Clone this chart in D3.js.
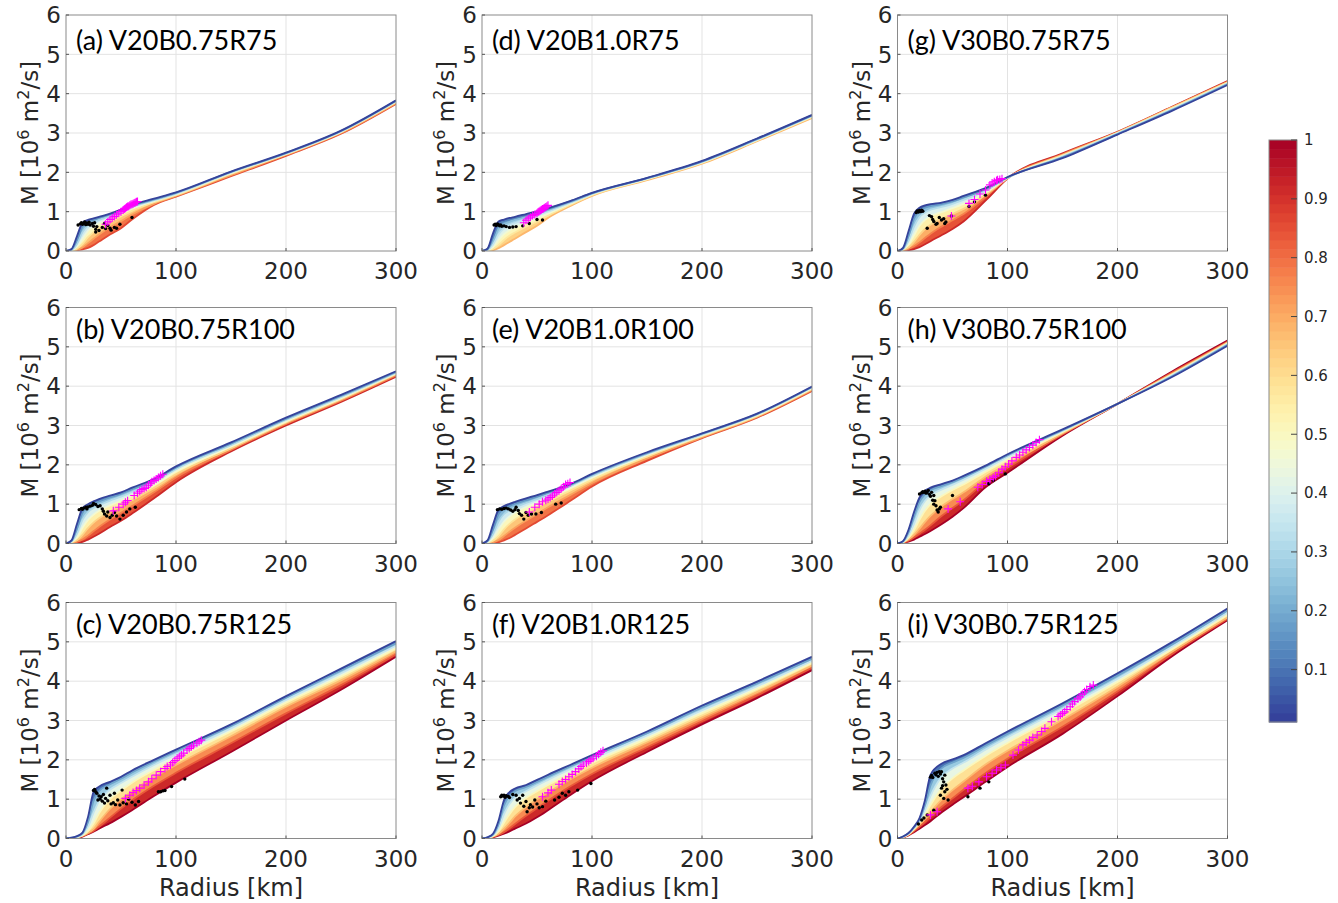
<!DOCTYPE html>
<html>
<head>
<meta charset="utf-8">
<script src="https://cdn.jsdelivr.net/npm/d3@7"></script>
<style>
  body { margin: 0; background: #fff; }
  text { font-family: "DejaVu Sans", sans-serif; fill: #262626; }
</style>
</head>
<body>
<div id="chart"></div>
<script>
// radii (km) at which every M curve is sampled
const radii = [0, 5, 10, 15, 20, 25, 30, 40, 50, 60, 80, 100, 150, 200, 250, 300];

const xTicks = [0, 100, 200, 300];
const yTicks = [0, 1, 2, 3, 4, 5, 6];
const cbTicks = [0.1, 0.2, 0.3, 0.4, 0.5, 0.6, 0.7, 0.8, 0.9, 1];

const panelLabels = ["(a) V20B0.75R75", "(b) V20B0.75R100", "(c) V20B0.75R125",
                     "(d) V20B1.0R75", "(e) V20B1.0R100", "(f) V20B1.0R125",
                     "(g) V30B0.75R75", "(h) V30B0.75R100", "(i) V30B0.75R125"];

// normalised time of each curve, and M [10^6 m2/s] of each curve at the radii above
const times_a = [0.02, 0.16, 0.3, 0.44, 0.58, 0.72, 0.86];
const M_a = [
  [0, 0.05, 0.38, 0.72, 0.79, 0.83, 0.87, 0.95, 1.05, 1.17, 1.33, 1.49, 2.02, 2.5, 3.06, 3.83],
  [0, 0.04, 0.28, 0.62, 0.74, 0.79, 0.84, 0.93, 1.03, 1.15, 1.31, 1.48, 2.01, 2.49, 3.05, 3.82],
  [0, 0.03, 0.18, 0.48, 0.65, 0.73, 0.79, 0.89, 1.0, 1.12, 1.29, 1.46, 2.0, 2.48, 3.04, 3.81],
  [0, 0.02, 0.11, 0.32, 0.52, 0.63, 0.71, 0.83, 0.95, 1.08, 1.27, 1.44, 1.98, 2.47, 3.03, 3.8],
  [0, 0.01, 0.06, 0.18, 0.35, 0.48, 0.59, 0.74, 0.88, 1.02, 1.24, 1.42, 1.96, 2.46, 3.02, 3.78],
  [0, 0.01, 0.03, 0.09, 0.2, 0.31, 0.42, 0.6, 0.76, 0.93, 1.2, 1.4, 1.93, 2.44, 3.0, 3.76],
  [0, 0, 0.02, 0.04, 0.08, 0.15, 0.24, 0.42, 0.58, 0.8, 1.17, 1.38, 1.9, 2.42, 2.98, 3.74]
];
const dots_a = [[11,0.66],[13,0.69],[14,0.72],[15,0.68],[16,0.7],[17,0.74],[18,0.67],[19,0.71],[20,0.68],[21,0.73],
  [22,0.66],[24,0.7],[25,0.63],[26,0.72],[27,0.55],[27,0.48],[28,0.62],[30,0.52],[33,0.6],[35,0.7],[36,0.57],
  [38,0.65],[40,0.58],[41,0.53],[44,0.6],[46,0.58],[49,0.68],[60,0.85]];
const plus_a = [[36,0.68],[38,0.74],[40,0.8],[42,0.84],[44,0.88],[46,0.92],[48,0.96],[50,1.0],[52,1.04],[53,1.07],
  [54,1.09],[55,1.11],[56,1.13],[57,1.14],[58,1.16],[59,1.18],[60,1.19],[61,1.2],[62,1.22],[63,1.23],[64,1.25],[65,1.26]];

const times_b = [0.02, 0.17, 0.32, 0.47, 0.62, 0.77, 0.92];
const M_b = [
  [0, 0.08, 0.5, 0.9, 1.0, 1.07, 1.13, 1.22, 1.3, 1.42, 1.64, 1.96, 2.57, 3.2, 3.78, 4.38],
  [0, 0.06, 0.38, 0.78, 0.93, 1.01, 1.07, 1.17, 1.26, 1.38, 1.61, 1.93, 2.54, 3.17, 3.75, 4.36],
  [0, 0.05, 0.25, 0.6, 0.8, 0.9, 0.97, 1.09, 1.19, 1.31, 1.56, 1.89, 2.5, 3.14, 3.72, 4.34],
  [0, 0.04, 0.15, 0.4, 0.6, 0.73, 0.83, 0.97, 1.09, 1.22, 1.49, 1.83, 2.46, 3.1, 3.69, 4.32],
  [0, 0.02, 0.08, 0.22, 0.39, 0.53, 0.64, 0.81, 0.95, 1.1, 1.41, 1.76, 2.42, 3.07, 3.66, 4.3],
  [0, 0.01, 0.04, 0.1, 0.2, 0.31, 0.42, 0.61, 0.78, 0.95, 1.3, 1.68, 2.38, 3.04, 3.63, 4.27],
  [0, 0, 0.01, 0.04, 0.1, 0.17, 0.25, 0.42, 0.58, 0.76, 1.15, 1.56, 2.34, 3.0, 3.6, 4.24]
];
const dots_b = [[12,0.86],[14,0.89],[15,0.87],[16,0.9],[18,0.92],[19,0.88],[20,0.93],[22,0.95],[24,0.97],[25,1.02],
  [27,0.99],[29,0.94],[31,0.96],[33,0.88],[34,0.82],[35,0.75],[37,0.7],[38,0.8],[40,0.66],[42,0.72],[44,0.79],
  [46,0.7],[49,0.62],[52,0.72],[55,0.8],[58,0.88],[63,0.92]];
const plus_b = [[43,0.83],[48,0.92],[52,1.0],[54,1.05],[56,1.09],[62,1.22],[65,1.28],[67,1.33],[69,1.37],[71,1.4],
  [73,1.43],[75,1.48],[77,1.53],[78,1.57],[80,1.6],[82,1.64],[84,1.68],[86,1.72],[88,1.76]];

const times_c = [0.02, 0.185, 0.35, 0.51, 0.67, 0.835, 1.0];
const M_c = [
  [0, 0.02, 0.06, 0.15, 0.55, 1.18, 1.32, 1.44, 1.57, 1.73, 2.0, 2.26, 2.9, 3.62, 4.32, 5.02],
  [0, 0.02, 0.05, 0.13, 0.42, 0.95, 1.2, 1.38, 1.52, 1.68, 1.96, 2.22, 2.86, 3.58, 4.27, 4.96],
  [0, 0.01, 0.04, 0.1, 0.3, 0.65, 0.95, 1.24, 1.41, 1.57, 1.87, 2.14, 2.8, 3.52, 4.2, 4.9],
  [0, 0.01, 0.03, 0.08, 0.19, 0.38, 0.64, 1.0, 1.22, 1.42, 1.74, 2.03, 2.72, 3.45, 4.12, 4.83],
  [0, 0.01, 0.03, 0.07, 0.14, 0.24, 0.42, 0.75, 1.0, 1.2, 1.56, 1.87, 2.6, 3.35, 4.02, 4.76],
  [0, 0.01, 0.02, 0.06, 0.12, 0.19, 0.3, 0.53, 0.76, 0.97, 1.34, 1.67, 2.42, 3.18, 3.9, 4.68],
  [0, 0.01, 0.02, 0.05, 0.11, 0.17, 0.25, 0.39, 0.55, 0.72, 1.08, 1.42, 2.2, 3.0, 3.78, 4.62]
];
const dots_c = [[25,1.22],[26,1.25],[27,1.19],[28,1.15],[29,0.98],[30,1.08],[31,1.0],[32,1.06],[33,0.95],[34,1.12],
  [35,0.9],[36,1.02],[37,1.28],[38,0.96],[40,1.1],[41,0.88],[43,0.91],[44,1.15],[45,0.86],[47,0.98],[49,0.85],
  [51,1.23],[52,0.91],[55,0.88],[57,1.0],[60,0.92],[63,0.85],[66,0.94],[84,1.19],[86,1.19],[88,1.21],[90,1.22],
  [96,1.32],[108,1.51]];
const plus_c = [[54,1.02],[58,1.1],[61,1.17],[64,1.22],[67,1.28],[71,1.36],[75,1.44],[78,1.52],[82,1.61],[86,1.7],
  [90,1.78],[92,1.83],[95,1.87],[97,1.93],[99,1.98],[101,2.04],[103,2.08],[105,2.12],[107,2.17],[110,2.25],
  [112,2.29],[114,2.33],[116,2.37],[119,2.42],[121,2.46],[123,2.5]];

const times_d = [0.02, 0.13, 0.24, 0.35, 0.46, 0.57, 0.68];
const M_d = [
  [0, 0.06, 0.45, 0.75, 0.8, 0.84, 0.87, 0.94, 1.01, 1.09, 1.27, 1.48, 1.86, 2.29, 2.86, 3.46],
  [0, 0.05, 0.35, 0.68, 0.76, 0.8, 0.84, 0.91, 0.99, 1.07, 1.26, 1.47, 1.85, 2.28, 2.85, 3.45],
  [0, 0.04, 0.25, 0.56, 0.68, 0.74, 0.79, 0.87, 0.95, 1.04, 1.24, 1.46, 1.85, 2.27, 2.84, 3.44],
  [0, 0.03, 0.16, 0.42, 0.57, 0.65, 0.71, 0.81, 0.9, 1.0, 1.22, 1.45, 1.84, 2.26, 2.83, 3.43],
  [0, 0.02, 0.1, 0.28, 0.43, 0.53, 0.6, 0.72, 0.83, 0.95, 1.2, 1.44, 1.83, 2.25, 2.82, 3.42],
  [0, 0.01, 0.05, 0.15, 0.28, 0.39, 0.47, 0.62, 0.75, 0.9, 1.17, 1.42, 1.82, 2.24, 2.81, 3.4],
  [0, 0.01, 0.02, 0.07, 0.15, 0.23, 0.31, 0.48, 0.64, 0.84, 1.14, 1.4, 1.8, 2.22, 2.79, 3.38]
];
const dots_d = [[11,0.66],[12,0.68],[13,0.65],[14,0.69],[15,0.67],[16,0.64],[17,0.66],[18,0.63],[20,0.64],[22,0.62],
  [25,0.6],[28,0.61],[31,0.62],[37,0.64],[43,0.7],[50,0.8],[55,0.79]];
const plus_d = [[38,0.72],[40,0.78],[42,0.82],[44,0.86],[46,0.9],[48,0.93],[50,0.96],[51,0.99],[52,1.01],[53,1.03],
  [54,1.05],[55,1.07],[56,1.08],[57,1.1],[58,1.12],[59,1.14],[60,1.16]];

const times_e = [0.02, 0.16, 0.3, 0.44, 0.58, 0.72, 0.86];
const M_e = [
  [0, 0.08, 0.48, 0.86, 0.95, 1.01, 1.06, 1.15, 1.23, 1.32, 1.51, 1.77, 2.32, 2.8, 3.3, 3.99],
  [0, 0.06, 0.36, 0.75, 0.88, 0.95, 1.01, 1.1, 1.19, 1.29, 1.49, 1.75, 2.3, 2.79, 3.29, 3.98],
  [0, 0.05, 0.24, 0.56, 0.75, 0.85, 0.92, 1.03, 1.13, 1.24, 1.46, 1.72, 2.28, 2.77, 3.28, 3.97],
  [0, 0.03, 0.14, 0.36, 0.56, 0.69, 0.79, 0.93, 1.05, 1.17, 1.41, 1.68, 2.25, 2.75, 3.26, 3.95],
  [0, 0.02, 0.07, 0.19, 0.36, 0.5, 0.61, 0.78, 0.93, 1.07, 1.34, 1.62, 2.21, 2.73, 3.24, 3.93],
  [0, 0.01, 0.03, 0.09, 0.19, 0.3, 0.4, 0.58, 0.75, 0.92, 1.23, 1.54, 2.16, 2.7, 3.22, 3.9],
  [0, 0, 0.01, 0.03, 0.08, 0.14, 0.22, 0.38, 0.55, 0.72, 1.08, 1.45, 2.1, 2.68, 3.2, 3.88]
];
const dots_e = [[14,0.86],[16,0.88],[18,0.87],[20,0.89],[22,0.9],[24,0.88],[26,0.85],[28,0.82],[30,0.86],[31,0.92],
  [33,0.84],[34,0.76],[36,0.72],[38,0.62],[40,0.79],[42,0.72],[45,0.75],[49,0.75],[54,0.79],[67,1.0],[72,1.03]];
const plus_e = [[43,0.8],[48,0.92],[52,1.0],[55,1.06],[58,1.1],[60,1.13],[62,1.17],[64,1.21],[66,1.26],[68,1.3],
  [70,1.34],[72,1.39],[74,1.44],[76,1.5],[78,1.52],[80,1.55]];

const times_f = [0.02, 0.185, 0.35, 0.51, 0.67, 0.835, 1.0];
const M_f = [
  [0, 0.03, 0.12, 0.45, 0.98, 1.18, 1.27, 1.36, 1.49, 1.62, 1.87, 2.12, 2.72, 3.38, 3.99, 4.62],
  [0, 0.03, 0.1, 0.36, 0.84, 1.08, 1.2, 1.31, 1.44, 1.57, 1.83, 2.08, 2.68, 3.33, 3.94, 4.57],
  [0, 0.02, 0.08, 0.26, 0.62, 0.88, 1.04, 1.2, 1.35, 1.49, 1.76, 2.02, 2.62, 3.26, 3.87, 4.52],
  [0, 0.02, 0.06, 0.18, 0.4, 0.62, 0.8, 1.03, 1.2, 1.36, 1.65, 1.92, 2.54, 3.18, 3.8, 4.46],
  [0, 0.01, 0.05, 0.12, 0.25, 0.4, 0.56, 0.8, 1.0, 1.17, 1.5, 1.8, 2.44, 3.08, 3.72, 4.4],
  [0, 0.01, 0.04, 0.09, 0.16, 0.26, 0.37, 0.58, 0.77, 0.96, 1.32, 1.64, 2.32, 2.98, 3.64, 4.34],
  [0, 0.01, 0.03, 0.07, 0.12, 0.18, 0.25, 0.38, 0.54, 0.72, 1.1, 1.46, 2.2, 2.9, 3.57, 4.28]
];
const dots_f = [[17,1.06],[18,1.1],[19,1.08],[20,1.1],[21,1.05],[22,1.09],[24,1.07],[25,1.04],[28,1.12],[31,1.1],
  [32,0.98],[34,1.02],[35,0.9],[37,1.1],[38,0.82],[40,0.94],[41,0.68],[43,0.78],[44,0.86],[46,0.8],[48,0.98],
  [50,0.88],[52,0.78],[55,0.81],[58,0.95],[66,0.98],[70,1.05],[73,1.15],[76,1.1],[79,1.19],[87,1.23],[99,1.4]];
const plus_f = [[55,1.06],[60,1.16],[63,1.23],[70,1.38],[73,1.45],[76,1.5],[79,1.57],[82,1.63],[85,1.7],[88,1.77],
  [90,1.83],[92,1.87],[95,1.92],[97,1.96],[99,2.0],[101,2.04],[104,2.09],[106,2.14],[108,2.19],[110,2.23]];

const times_g = [0.02, 0.17, 0.32, 0.47, 0.62, 0.77, 0.92];
const M_g = [
  [0, 0.08, 0.5, 0.95, 1.1, 1.16, 1.19, 1.23, 1.3, 1.4, 1.6, 1.88, 2.36, 2.96, 3.57, 4.22],
  [0, 0.06, 0.38, 0.82, 1.02, 1.1, 1.14, 1.19, 1.26, 1.36, 1.57, 1.87, 2.38, 2.97, 3.59, 4.24],
  [0, 0.05, 0.26, 0.62, 0.86, 0.98, 1.05, 1.12, 1.2, 1.3, 1.53, 1.86, 2.4, 2.99, 3.61, 4.26],
  [0, 0.04, 0.16, 0.4, 0.64, 0.79, 0.88, 0.99, 1.09, 1.2, 1.48, 1.86, 2.42, 3.0, 3.63, 4.27],
  [0, 0.03, 0.09, 0.23, 0.41, 0.56, 0.67, 0.82, 0.94, 1.07, 1.43, 1.85, 2.44, 3.01, 3.65, 4.29],
  [0, 0.01, 0.05, 0.12, 0.22, 0.33, 0.44, 0.62, 0.78, 0.94, 1.38, 1.85, 2.46, 3.02, 3.66, 4.3],
  [0, 0, 0.02, 0.05, 0.1, 0.17, 0.25, 0.4, 0.56, 0.75, 1.28, 1.84, 2.48, 3.03, 3.67, 4.32]
];
const dots_g = [[17,0.98],[18,1.02],[19,0.99],[20,1.03],[21,1.0],[22,1.04],[23,1.01],[27,0.58],[29,0.9],[31,0.87],
  [32,0.8],[33,0.75],[35,0.68],[36,0.7],[38,0.85],[40,0.79],[42,0.82],[43,0.7],[44,0.74],[49,0.89],[65,1.13],
  [70,1.25],[80,1.42]];
const plus_g = [[49,0.89],[65,1.21],[70,1.31],[75,1.45],[80,1.55],[84,1.68],[86,1.73],[88,1.76],[90,1.79],[91,1.81],
  [93,1.82],[95,1.84]];

const times_h = [0.02, 0.185, 0.35, 0.51, 0.67, 0.835, 1.0];
const M_h = [
  [0, 0.06, 0.35, 0.8, 1.17, 1.34, 1.42, 1.51, 1.6, 1.72, 1.98, 2.27, 2.9, 3.55, 4.24, 5.03],
  [0, 0.05, 0.28, 0.68, 1.06, 1.25, 1.35, 1.46, 1.56, 1.68, 1.95, 2.24, 2.88, 3.55, 4.26, 5.05],
  [0, 0.04, 0.2, 0.5, 0.85, 1.08, 1.22, 1.37, 1.49, 1.62, 1.9, 2.2, 2.86, 3.55, 4.28, 5.07],
  [0, 0.03, 0.14, 0.34, 0.6, 0.83, 1.0, 1.2, 1.36, 1.5, 1.82, 2.12, 2.83, 3.55, 4.3, 5.09],
  [0, 0.03, 0.1, 0.22, 0.38, 0.55, 0.7, 0.94, 1.13, 1.3, 1.7, 2.02, 2.8, 3.55, 4.32, 5.11],
  [0, 0.02, 0.07, 0.15, 0.25, 0.35, 0.46, 0.7, 0.9, 1.1, 1.57, 1.92, 2.77, 3.55, 4.35, 5.13],
  [0, 0.02, 0.05, 0.1, 0.17, 0.24, 0.32, 0.49, 0.68, 0.9, 1.43, 1.8, 2.74, 3.55, 4.38, 5.16]
];
const dots_h = [[20,1.26],[22,1.29],[23,1.32],[24,1.3],[25,1.33],[26,1.28],[27,1.31],[28,1.35],[29,1.25],[30,1.2],
  [31,1.3],[32,1.1],[33,1.22],[33,1.0],[34,1.09],[35,0.96],[36,0.85],[37,0.8],[38,0.88],[39,0.92],[50,1.22],
  [83,1.52],[87,1.6],[98,1.77]];
const plus_h = [[46,0.88],[57,1.06],[73,1.43],[77,1.5],[81,1.58],[84,1.63],[87,1.68],[89,1.72],[92,1.8],[95,1.89],
  [98,1.95],[101,2.02],[104,2.1],[108,2.19],[111,2.25],[114,2.32],[117,2.38],[120,2.44],[123,2.5],[126,2.57],[129,2.64]];

const times_i = [0.02, 0.185, 0.35, 0.51, 0.67, 0.835, 1.0];
const M_i = [
  [0, 0.05, 0.14, 0.3, 0.52, 0.98, 1.62, 1.9, 2.01, 2.12, 2.42, 2.72, 3.44, 4.2, 5.0, 5.85],
  [0, 0.05, 0.13, 0.28, 0.48, 0.85, 1.35, 1.78, 1.93, 2.05, 2.36, 2.66, 3.38, 4.14, 4.94, 5.8],
  [0, 0.04, 0.12, 0.26, 0.44, 0.72, 1.08, 1.56, 1.78, 1.93, 2.26, 2.57, 3.3, 4.06, 4.88, 5.74],
  [0, 0.04, 0.11, 0.24, 0.4, 0.6, 0.85, 1.26, 1.53, 1.73, 2.1, 2.43, 3.18, 3.98, 4.82, 5.68],
  [0, 0.04, 0.1, 0.22, 0.35, 0.5, 0.67, 0.98, 1.23, 1.45, 1.88, 2.23, 3.02, 3.86, 4.76, 5.62],
  [0, 0.03, 0.09, 0.19, 0.3, 0.42, 0.55, 0.8, 1.02, 1.24, 1.66, 2.03, 2.84, 3.74, 4.7, 5.58],
  [0, 0.03, 0.08, 0.16, 0.25, 0.34, 0.44, 0.66, 0.86, 1.05, 1.44, 1.82, 2.66, 3.62, 4.64, 5.55]
];
const dots_i = [[19,0.37],[22,0.47],[24,0.52],[27,0.6],[30,1.56],[31,1.6],[32,1.55],[33,0.72],[34,1.66],[35,1.62],
  [36,1.68],[37,1.58],[38,1.7],[39,1.64],[40,1.7],[41,1.52],[42,1.44],[43,1.61],[44,1.36],[40,1.28],[43,1.19],
  [39,1.1],[42,1.02],[46,0.98],[41,1.34],[45,1.25],[64,1.06],[75,1.28],[83,1.44]];
const plus_i = [[30,0.6],[36,0.68],[64,1.28],[68,1.33],[74,1.44],[81,1.57],[86,1.66],[90,1.74],[94,1.8],[98,1.87],
  [105,2.12],[110,2.25],[114,2.38],[117,2.44],[120,2.5],[123,2.57],[127,2.63],[131,2.72],[134,2.8],[140,2.97],
  [146,3.1],[148,3.14],[150,3.18],[152,3.22],[154,3.28],[157,3.35],[159,3.42],[161,3.48],[164,3.55],[166,3.6],
  [168,3.67],[170,3.73],[172,3.79],[175,3.86],[178,3.9]];

// ---- layout ----
const W = 1338, H = 903;
const colLeft = [66, 482, 897.5];
const rowTop = [15, 307.5, 602.5];
const plotW = 330, plotH = 236;

const panels = [
  { times: times_a, curves: M_a, dots: dots_a, plus: plus_a },
  { times: times_b, curves: M_b, dots: dots_b, plus: plus_b },
  { times: times_c, curves: M_c, dots: dots_c, plus: plus_c },
  { times: times_d, curves: M_d, dots: dots_d, plus: plus_d },
  { times: times_e, curves: M_e, dots: dots_e, plus: plus_e },
  { times: times_f, curves: M_f, dots: dots_f, plus: plus_f },
  { times: times_g, curves: M_g, dots: dots_g, plus: plus_g },
  { times: times_h, curves: M_h, dots: dots_h, plus: plus_h },
  { times: times_i, curves: M_i, dots: dots_i, plus: plus_i }
];

const color = t => d3.interpolateRdYlBu(1 - t);

const svg = d3.select("#chart").append("svg")
  .attr("width", W).attr("height", H)
  .style("background", "#fff");

const x = d3.scaleLinear().domain([0, 300]).range([0, plotW]);
const y = d3.scaleLinear().domain([0, 6]).range([plotH, 0]);

const line = d3.line()
  .x((d, i) => x(radii[i]))
  .y(d => y(d))
  .curve(d3.curveMonotoneX);

const band = d3.area()
  .x((d, i) => x(radii[i]))
  .y0(d => y(d[0]))
  .y1(d => y(d[1]))
  .curve(d3.curveMonotoneX);

panels.forEach((p, k) => {
  const col = Math.floor(k / 3), row = k % 3;
  const g = svg.append("g")
    .attr("transform", `translate(${colLeft[col]},${rowTop[row]})`);

  // clip for the data
  svg.append("clipPath").attr("id", "clip" + k)
    .append("rect").attr("width", plotW).attr("height", plotH);

  // grid
  g.append("g").selectAll("line").data(xTicks.slice(1, -1)).enter().append("line")
    .attr("x1", d => x(d)).attr("x2", d => x(d))
    .attr("y1", 0).attr("y2", plotH)
    .attr("stroke", "#e3e3e3").attr("stroke-width", 1);
  g.append("g").selectAll("line").data(yTicks.slice(1, -1)).enter().append("line")
    .attr("y1", d => y(d)).attr("y2", d => y(d))
    .attr("x1", 0).attr("x2", plotW)
    .attr("stroke", "#e3e3e3").attr("stroke-width", 1);

  const data = g.append("g").attr("clip-path", `url(#clip${k})`);

  // fill between consecutive curves, latest first so early (blue) curves end on top
  const n = p.curves.length;
  for (let i = n - 2; i >= 0; i--) {
    const pair = radii.map((r, j) => [p.curves[i][j], p.curves[i + 1][j]]);
    data.append("path")
      .attr("d", band(pair))
      .attr("fill", color((p.times[i] + p.times[i + 1]) / 2))
      .attr("stroke", "none");
  }
  for (let i = n - 1; i >= 0; i--) {
    data.append("path")
      .attr("d", line(p.curves[i]))
      .attr("fill", "none")
      .attr("stroke", color(p.times[i]))
      .attr("stroke-width", 1.8);
  }

  // black dots
  data.selectAll("circle").data(p.dots).enter().append("circle")
    .attr("cx", d => x(d[0])).attr("cy", d => y(d[1]))
    .attr("r", 1.7).attr("fill", "#000");

  // magenta plus markers
  data.selectAll("path.plus").data(p.plus).enter().append("path")
    .attr("class", "plus")
    .attr("transform", d => `translate(${x(d[0])},${y(d[1])})`)
    .attr("d", "M-4,0H4M0,-4V4")
    .attr("stroke", "#ff00ff").attr("stroke-width", 1.1).attr("fill", "none");

  // box + inward ticks
  g.append("rect").attr("width", plotW).attr("height", plotH)
    .attr("fill", "none").attr("stroke", "#8a8a8a").attr("stroke-width", 1);
  g.append("g").selectAll("line").data(xTicks).enter().append("line")
    .attr("x1", d => x(d)).attr("x2", d => x(d))
    .attr("y1", plotH).attr("y2", plotH - 3)
    .attr("stroke", "#555");
  g.append("g").selectAll("line").data(yTicks).enter().append("line")
    .attr("x1", 0).attr("x2", 3)
    .attr("y1", d => y(d)).attr("y2", d => y(d))
    .attr("stroke", "#555");

  // tick labels
  g.append("g").selectAll("text").data(xTicks).enter().append("text")
    .attr("x", d => x(d)).attr("y", plotH + 28)
    .attr("text-anchor", "middle")
    .style("font-size", "23px")
    .text(d => d);
  g.append("g").selectAll("text").data(yTicks).enter().append("text")
    .attr("x", -5).attr("y", d => y(d))
    .attr("dy", "0.36em")
    .attr("text-anchor", "end")
    .style("font-size", "23px")
    .text(d => d);

  // y label
  const yl = g.append("text")
    .attr("transform", `translate(-28,${plotH / 2}) rotate(-90)`)
    .attr("text-anchor", "middle")
    .style("font-size", "23px");
  yl.append("tspan").text("M [10");
  yl.append("tspan").attr("dy", -9).style("font-size", "16px").text("6");
  yl.append("tspan").attr("dy", 9).text(" m");
  yl.append("tspan").attr("dy", -9).style("font-size", "16px").text("2");
  yl.append("tspan").attr("dy", 9).text("/s]");

  // x label on bottom row
  if (row === 2) {
    g.append("text")
      .attr("x", plotW / 2).attr("y", plotH + 57)
      .attr("text-anchor", "middle")
      .style("font-size", "24px")
      .text("Radius [km]");
  }

  // panel title
  g.append("text")
    .attr("x", 10).attr("y", row === 0 ? 35 : 31)
    .style("font-family", "Lato, sans-serif")
    .style("font-size", "27px")
    .style("fill", "#000")
    .text(panelLabels[k]);
});

// ---- colorbar ----
const cbX = 1269, cbTop = 140, cbBottom = 722, cbW = 28;
const cb = d3.scaleLinear().domain([0.011, 1]).range([cbBottom, cbTop]);
const levels = d3.range(64).map(i => 0.011 + (1 - 0.011) * i / 64);
const step = (1 - 0.011) / 64;
const cg = svg.append("g");
cg.selectAll("rect").data(levels).enter().append("rect")
  .attr("x", cbX).attr("width", cbW)
  .attr("y", d => cb(d + step))
  .attr("height", d => cb(d) - cb(d + step) + 0.5)
  .attr("fill", d => color(d + step / 2));
cg.append("rect").attr("x", cbX).attr("y", cbTop).attr("width", cbW).attr("height", cbBottom - cbTop)
  .attr("fill", "none").attr("stroke", "#8a8a8a");
cg.selectAll("line").data(cbTicks).enter().append("line")
  .attr("x1", cbX + cbW - 6).attr("x2", cbX + cbW)
  .attr("y1", d => cb(d)).attr("y2", d => cb(d))
  .attr("stroke", "#444");
cg.selectAll("text").data(cbTicks).enter().append("text")
  .attr("x", cbX + cbW + 7).attr("y", d => cb(d))
  .attr("dy", "0.36em")
  .style("font-size", "15px")
  .text(d => d);
</script>
</body>
</html>
